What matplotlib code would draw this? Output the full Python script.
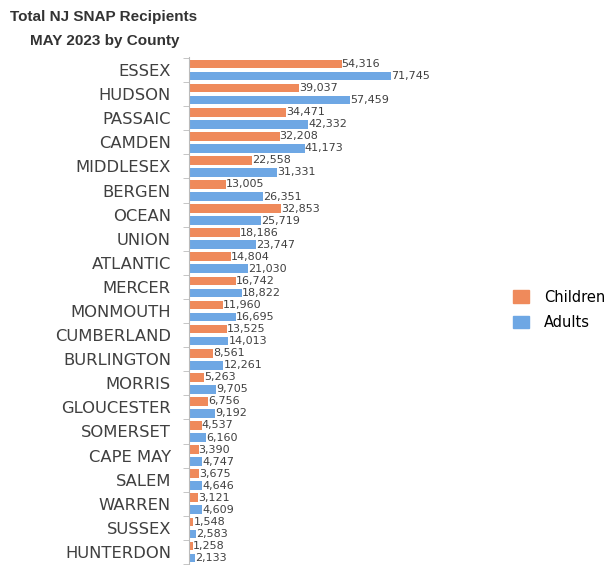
import matplotlib
matplotlib.use("Agg")
import matplotlib.pyplot as plt
from matplotlib.patches import Patch
import numpy as np

counties = ["ESSEX", "HUDSON", "PASSAIC", "CAMDEN", "MIDDLESEX", "BERGEN", "OCEAN", "UNION",
            "ATLANTIC", "MERCER", "MONMOUTH", "CUMBERLAND", "BURLINGTON", "MORRIS", "GLOUCESTER",
            "SOMERSET", "CAPE MAY", "SALEM", "WARREN", "SUSSEX", "HUNTERDON"]
children = [54316, 39037, 34471, 32208, 22558, 13005, 32853, 18186, 14804, 16742, 11960,
            13525, 8561, 5263, 6756, 4537, 3390, 3675, 3121, 1548, 1258]
adults = [71745, 57459, 42332, 41173, 31331, 26351, 25719, 23747, 21030, 18822, 16695,
          14013, 12261, 9705, 9192, 6160, 4747, 4646, 4609, 2583, 2133]

c_orange = "#EF8A5B"
c_blue = "#6EA7E4"

fig = plt.figure(figsize=(6.11, 5.65), dpi=100)
ax = fig.add_axes([189/611, 0.0, (470-189)/611, 1 - 57/565])

y = np.arange(len(counties))
h = 0.36
off = 0.25
ax.barh(y - off, children, height=h, color=c_orange)
ax.barh(y + off, adults, height=h, color=c_blue)

for yi, v in zip(y, children):
    ax.text(v, yi - off, f"{v:,}", va="center", ha="left", fontsize=8, color="#404040")
for yi, v in zip(y, adults):
    ax.text(v, yi + off, f"{v:,}", va="center", ha="left", fontsize=8, color="#404040")

ax.set_xlim(0, 100000)
ax.set_ylim(len(counties) - 0.46, -0.54)
ax.set_yticks(y)
ax.set_yticklabels(counties, fontsize=11.8, color="#404040")
ax.tick_params(axis="y", which="major", length=0, pad=13)
ax.set_yticks(np.arange(len(counties) + 1) - 0.5, minor=True)
ax.tick_params(axis="y", which="minor", length=4, color="#BBBBBB")
ax.set_xticks([])
for s in ["top", "right", "bottom"]:
    ax.spines[s].set_visible(False)
ax.spines["left"].set_color("#BBBBBB")

fig.text(10/611, 1 - 17/565, "Total NJ SNAP Recipients", fontsize=11, fontweight="bold",
         family="Liberation Sans", va="center", ha="left", color="#333333")
fig.text(30/611, 1 - 41/565, "MAY 2023 by County", fontsize=11, fontweight="bold",
         family="Liberation Sans", va="center", ha="left", color="#333333")

handles = [Patch(color=c_orange, label="Children"), Patch(color=c_blue, label="Adults")]
fig.legend(handles=handles, loc="center left", bbox_to_anchor=(500/611, 1 - 310/565),
           frameon=False, fontsize=10.5, handlelength=1.1, handleheight=0.9,
           labelspacing=0.75, handletextpad=1.0)

fig.savefig("out.png", dpi=100)
